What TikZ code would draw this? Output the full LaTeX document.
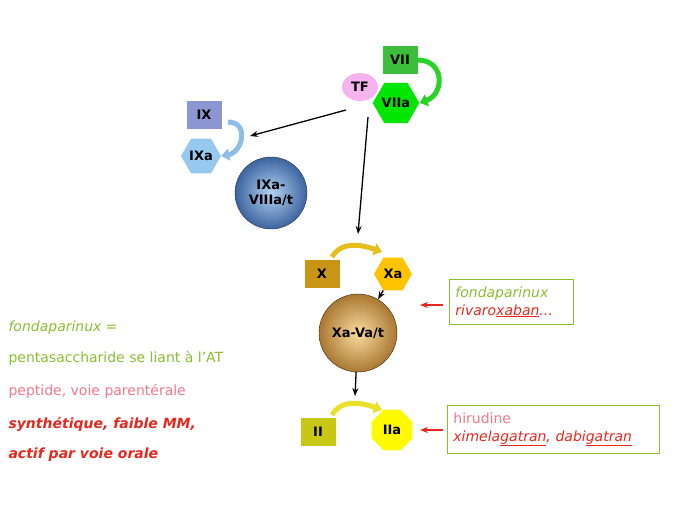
\documentclass[tikz,border=0pt]{standalone}
\usepackage{fontspec}
\setmainfont{DejaVu Sans}
\usetikzlibrary{shapes.geometric,arrows.meta,shadings}
\definecolor{lgreen}{RGB}{140,190,50}
\definecolor{lpink}{RGB}{240,120,140}
\definecolor{dred}{RGB}{230,40,30}
\tikzset{
 lab/.style={font=\bfseries\fontsize{13}{15}\selectfont},
 rbox/.style={lab,rectangle,minimum width=35pt,minimum height=28pt},
 hexa/.style={lab,regular polygon,regular polygon sides=6,minimum size=38pt,inner sep=0pt},
 blk/.style={-{Stealth[length=8pt]},line width=1.3pt,black},
 redar/.style={-{Stealth[length=8pt]},line width=1.3pt,dred},
 curv/.style={line width=5pt,-{Triangle[length=8pt,width=12pt]}},
 side/.style={anchor=west,font=\fontsize{14}{16}\selectfont},
 info/.style={draw=lgreen,thick,align=left,anchor=north west,font=\fontsize{14}{18}\selectfont,inner xsep=6pt,inner ysep=7pt}
}
\begin{document}
\begin{tikzpicture}[x=1pt,y=-1pt]
\useasboundingbox (0,0) rectangle (689,517);
\fill[white] (0,0) rectangle (689,517);
% VII
\node[rbox,fill={rgb,255:red,60;green,190;blue,60}] (vii) at (400,60) {VII};
\node[hexa,fill={rgb,255:red,0;green,230;blue,0},minimum size=44pt] (viia) at (396,103) {VIIa};
\node[lab,ellipse,fill={rgb,255:red,245;green,180;blue,240},minimum width=36pt,minimum height=28pt,inner sep=0pt] (tf) at (360,87) {TF};
\draw[curv,color={rgb,255:red,40;green,210;blue,40}] (vii.east) to[out=0,in=20,looseness=1.6] (viia.east);
% IX
\node[rbox,fill={rgb,255:red,140;green,150;blue,210}] (ix) at (204,115) {IX};
\node[hexa,fill={rgb,255:red,150;green,200;blue,240},minimum size=40pt] (ixa) at (201,156) {IXa};
\draw[curv,color={rgb,255:red,140;green,190;blue,230}] (228,122) to[out=0,in=10,looseness=1.6] (ixa.east);
\node[lab,circle,minimum size=72pt,align=center,draw={rgb,255:red,40;green,50;blue,70},inner sep=0pt,
  inner color={rgb,255:red,180;green,210;blue,240},outer color={rgb,255:red,60;green,100;blue,160}] (ixv) at (271,193) {IXa-\\VIIIa/t};
\coordinate (tfo) at (346,110);
\coordinate (ixt) at (250,136);
\draw[blk] (tfo) -- (ixt);
\coordinate (tfd) at (368,117);
\coordinate (xt) at (358,234);
\draw[blk] (tfd) -- (xt);
% X
\node[rbox,fill={rgb,255:red,200;green,150;blue,20}] (x) at (322,274) {X};
\node[hexa,fill={rgb,255:red,255;green,195;blue,0},minimum size=38pt] (xa) at (393,274) {Xa};
\draw[curv,color={rgb,255:red,230;green,190;blue,30}] (332,257) to[out=60,in=160] (382,252);
\node[lab,circle,minimum size=78pt,draw={rgb,255:red,60;green,40;blue,10},inner sep=0pt,
  inner color={rgb,255:red,250;green,220;blue,160},outer color={rgb,255:red,170;green,120;blue,50}] (xv) at (358,333) {Xa-Va/t};
\draw[blk] (xa) -- (xv);
% II
\coordinate (iit) at (355,396);
\draw[blk] (xv) -- (iit);
\node[rbox,fill={rgb,255:red,200;green,200;blue,20}] (ii) at (318,432) {II};
\node[lab,regular polygon,regular polygon sides=8,minimum size=44pt,inner sep=0pt,fill={rgb,255:red,255;green,250;blue,0}] (iia) at (392,430) {IIa};
\draw[curv,color={rgb,255:red,235;green,225;blue,40}] (332,415) to[out=60,in=160] (382,410);
% info boxes
\node[info,text width=112pt] (b1) at (449,279) {\textcolor{lgreen}{\itshape fondaparinux}\\\textcolor{dred}{\itshape rivaro\underline{xaban}...}};
\node[info,text width=200pt] (b2) at (447,405) {\textcolor{lpink}{hirudine}\\\textcolor{dred}{\itshape ximela\underline{gatran}, dabi\underline{gatran}}};
\coordinate (r1) at (443,305);
\coordinate (r2) at (443,430);
\draw[redar] (r1) -- (420,305);
\draw[redar] (r2) -- (420,430);
% left texts
\node[side,text=lgreen,font=\itshape\fontsize{14}{16}\selectfont] (t1) at (5,328) {fondaparinux =};
\node[side,text=lgreen] (t2) at (5,358) {pentasaccharide se liant à l’AT};
\node[side,text=lpink] (t3) at (5,391) {peptide, voie parentérale};
\node[side,text=dred,font=\bfseries\itshape\fontsize{14}{16}\selectfont] (t4) at (5,424) {synthétique, faible MM,};
\node[side,text=dred,font=\bfseries\itshape\fontsize{14}{16}\selectfont] (t5) at (5,455) {actif par voie orale};
\end{tikzpicture}
\end{document}
